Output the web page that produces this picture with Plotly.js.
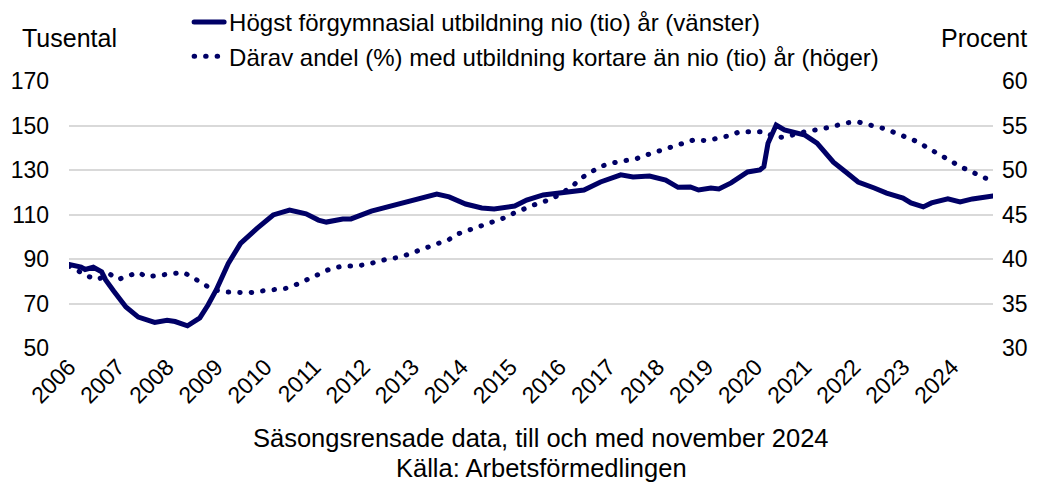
<!DOCTYPE html>
<html>
<head>
<meta charset="utf-8">
<script src="https://cdn.plot.ly/plotly-3.0.1.min.js"></script>
<style>
  body { margin: 0; background: #fff; }
  #grafica { width: 1043px; height: 485px; }
  #grafica path.js-line { stroke-linecap: round; }
</style>
</head>
<body>
<div id="grafica"></div>
<script>
let colorLinje = '#000066', colorGrid = '#d9d9d9', fontFam = 'Liberation Sans, Arial, sans-serif';

// Högst förgymnasial utbildning, tusental (vänster axel)
const datumAntal = ['2006-01','2006-04','2006-05','2006-07','2006-09','2006-10','2006-12','2007-02','2007-03','2007-06',
  '2007-10','2008-01','2008-03','2008-06','2008-09','2008-11','2009-01','2009-04','2009-07','2009-11',
  '2010-03','2010-07','2010-11','2011-02','2011-04','2011-08','2011-10','2012-03','2012-07','2012-11',
  '2013-01','2013-05','2013-07','2013-10','2014-02','2014-06','2014-09','2015-02','2015-05','2015-09',
  '2016-02','2016-07','2016-11','2017-04','2017-07','2017-11','2018-03','2018-06','2018-09','2018-11',
  '2019-02','2019-04','2019-07','2019-11','2020-02','2020-03','2020-04','2020-06','2020-08','2020-11',
  '2021-01','2021-04','2021-08','2021-11','2022-02','2022-06','2022-09','2023-01','2023-03','2023-06',
  '2023-08','2023-12','2024-03','2024-06','2024-11'];
const antal = [87.5,86.4,85.3,86.3,84.2,80.6,75.5,70.5,68.4,63.9,
  61.5,62.5,61.9,60.0,63.5,69.3,76.1,88,97,103.8,
  109.8,112,110.3,107.5,106.6,108,108,111.5,113.4,115.6,
  116.1,117.9,119.2,117.9,114.7,112.9,112.5,113.8,116.5,118.8,
  120.1,121,124.6,127.8,126.9,127.3,125.5,122.2,122.4,121,
  121.9,121.5,124.2,129.1,130,131.5,142,150.2,148,146.6,
  145.7,142.1,133.5,129.1,124.6,121.9,119.6,117.4,115.2,113.4,
  115.2,117,115.6,117,118.3];

// Därav andel (%) med utbildning kortare än nio (tio) år (höger axel)
const datumAndel = ['2006-01','2006-04','2006-06','2006-08','2006-11','2007-01','2007-04','2007-06','2007-08','2007-11',
  '2008-02','2008-05','2008-07','2008-10','2008-12','2009-03','2009-06','2009-09','2009-12','2010-03',
  '2010-06','2010-09','2010-12','2011-02','2011-05','2011-08','2011-11','2012-02','2012-05','2012-07',
  '2012-10','2013-01','2013-04','2013-07','2013-10','2013-12','2014-03','2014-06','2014-09','2014-12',
  '2015-02','2015-05','2015-08','2015-11','2016-04','2016-06','2016-09','2016-11','2017-02','2017-05',
  '2017-08','2017-11','2018-01','2018-04','2018-07','2018-10','2019-01','2019-04','2019-07','2019-09',
  '2019-12','2020-03','2020-06','2020-09','2020-12','2021-03','2021-06','2021-08','2021-11','2022-02',
  '2022-05','2022-08','2022-11','2023-02','2023-05','2023-07','2023-10','2023-12','2024-03','2024-05',
  '2024-08','2024-11'];
const andel = [39.2,38.4,38.0,37.7,38.3,37.7,38.1,38.5,38.0,38.2,
  38.4,38.5,38.0,37.2,36.6,36.3,36.2,36.2,36.4,36.5,
  36.7,37.2,37.8,38.3,38.9,39.2,39.2,39.4,39.8,40.0,
  40.2,40.7,41.1,41.7,42.2,42.8,43.3,43.7,44.3,44.7,
  45.2,45.8,46.3,46.7,48.1,49.0,49.8,50.4,50.8,51.1,
  51.3,51.8,52.1,52.5,52.9,53.4,53.3,53.6,53.9,54.3,
  54.3,54.3,53.6,53.8,54.2,54.4,54.7,54.9,55.3,55.4,
  55.1,54.7,54.2,53.6,53.1,52.5,51.8,51.2,50.4,50.0,
  49.3,48.7];

const namnAntal = 'Högst förgymnasial utbildning nio (tio) år (vänster)';
const namnAndel = 'Därav andel (%) med utbildning kortare än nio (tio) år (höger)';

const traceAndel = {
  x: datumAndel, y: andel, yaxis: 'y2', name: namnAndel,
  type: 'scatter', mode: 'lines', legendrank: 2,
  line: { color: colorLinje, width: 5, dash: '0.5px,11px' }
};
const traceAntal = {
  x: datumAntal, y: antal, name: namnAntal,
  type: 'scatter', mode: 'lines', legendrank: 1,
  line: { color: colorLinje, width: 5 }
};

// text under/over the plot, y in paper units (plot area = 81..348 px)
function textRad(text, x, y, size) {
  return { text: text, xref: 'paper', yref: 'paper', x: x, y: y, xanchor: 'center', yanchor: 'middle',
           showarrow: false, font: { size: size } };
}

const layout = {
  width: 1043, height: 485,
  margin: { l: 69, r: 50, t: 81, b: 137 },
  paper_bgcolor: '#fff', plot_bgcolor: '#fff',
  font: { family: fontFam, size: 24, color: '#000' },
  showlegend: true,
  legend: {
    x: 0.13, y: 1, yref: 'container', yanchor: 'top', xanchor: 'left',
    bgcolor: 'rgba(0,0,0,0)', font: { size: 24 }, tracegroupgap: 0
  },
  xaxis: {
    type: 'date', range: ['2006-01-01', '2024-11-01'],
    tick0: '2006-01-01', dtick: 'M12', tickformat: '%Y', tickangle: -45,
    showgrid: false, zeroline: false, showline: false, ticks: '',
    tickfont: { size: 23 }
  },
  yaxis: {
    range: [50, 170], dtick: 20, tick0: 50,
    showgrid: true, gridcolor: colorGrid, gridwidth: 2,
    zeroline: false, showline: false, ticks: '', ticklabelstandoff: 19,
    tickfont: { size: 23 }
  },
  yaxis2: {
    overlaying: 'y', side: 'right', range: [30, 60], dtick: 5, tick0: 30,
    showgrid: false, zeroline: false, showline: false, ticks: '', ticklabelstandoff: 8,
    tickfont: { size: 23 }
  },
  annotations: [
    textRad('Tusental', 0, 1.161, 25),
    textRad('Procent', 0.99, 1.161, 25),
    textRad('Säsongsrensade data, till och med november 2024', 0.511, -0.337, 25.5),
    textRad('Källa: Arbetsförmedlingen', 0.511, -0.449, 25.5)
  ]
};

Plotly.newPlot('grafica', [traceAndel, traceAntal], layout, { displayModeBar: false, staticPlot: true });
</script>
</body>
</html>
